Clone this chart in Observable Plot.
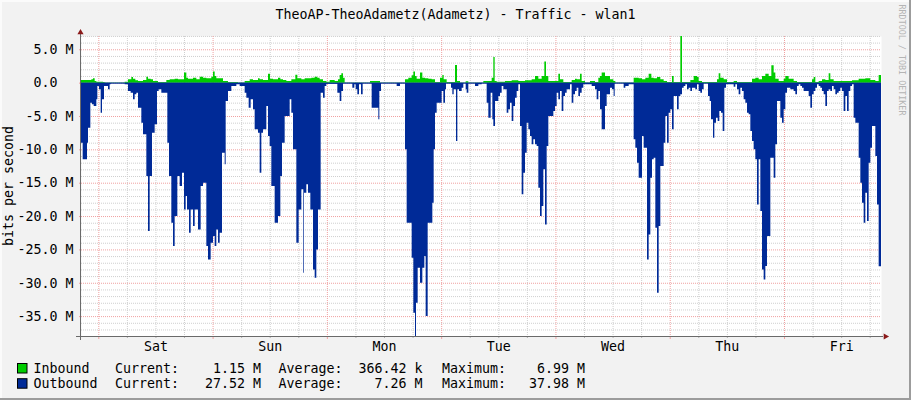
<!DOCTYPE html>
<html><head><meta charset="utf-8">
<script src="https://cdn.jsdelivr.net/npm/d3@7"></script>
<script src="https://cdn.jsdelivr.net/npm/@observablehq/plot@0.6"></script>
<style>
html,body{margin:0;padding:0;background:#ffffff;}
#chart{position:relative;width:911px;height:400px;background:#f2f2f2;overflow:hidden;}
#chart svg{position:absolute;left:0;top:0;}
</style></head>
<body><div id="chart"></div>
<script>
// ---- texts ----
const titleText = "TheoAP-TheoAdametz(Adametz) - Traffic - wlan1";
const yAxisTitle = "bits per second";
const watermark = "RRDTOOL / TOBI OETIKER";
// ---- legend ----
const seriesNames = ["Inbound", "Outbound"];
const seriesColors = ["#00CC00", "#002A97"];
const currentValues = ["1.15 M", "27.52 M"];
const averageValues = ["366.42 k", "7.26 M"];
const maximumValues = ["6.99 M", "37.98 M"];
// ---- time window: one week, start Fri 20:22 ----
const startTime = new Date(Date.UTC(2021, 0, 1, 20, 22));
const spanHours = 168;
// ---- data: [hours from start, Mbit/s], step-wise ----
const inboundSteps = [
[0,0.4],[2.17,0.5],[2.52,0.65],[2.87,0.25],[3.22,0.15],[4.62,0.1],[4.97,0.02],[9.17,0.15],[9.87,0.5],[10.57,0.85],
[10.92,0.6],[11.41,0.35],[11.97,0.25],[13.02,0.4],[13.72,0.9],[14.07,0.6],[14.63,0.5],[15.12,0.25],[16.17,0.1],[17.92,0.4],
[18.62,0.5],[19.67,0.6],[20.37,0.5],[21.63,1.5],[22.12,0.75],[22.47,0.6],[23.52,0.75],[24.22,0.5],[24.92,0.9],[25.62,0.75],
[26.32,0.65],[27.37,0.9],[27.72,1.65],[28.07,1.0],[28.42,0.65],[29.82,0.25],[30.87,0.1],[32.97,0.02],[34.37,0.25],[35.42,0.5],
[36.12,0.4],[37.17,0.65],[37.52,0.5],[38.22,0.4],[39.27,1.35],[39.69,0.6],[40.32,0.5],[41.37,0.75],[41.86,0.5],[42.42,0.4],
[43.12,0.25],[44.17,0.5],[45.01,1.2],[45.43,0.65],[46.27,0.5],[46.97,0.65],[48.37,0.75],[49.07,0.9],[49.63,0.75],[50.12,0.5],
[50.82,0.25],[51.52,0.15],[52.22,0.4],[53.27,0.25],[53.97,0.5],[54.32,1.15],[54.67,1.4],[55.02,0.75],[55.37,0.02],[60.69,0.25],
[62.79,0.02],[68.04,0.5],[68.74,0.75],[69.44,1.1],[69.79,1.65],[70.14,1.0],[70.49,0.6],[71.19,1.5],[71.68,0.75],[72.24,0.65],
[72.94,0.6],[73.64,0.5],[74.34,0.1],[75.39,0.75],[75.88,1.15],[76.16,0.5],[76.79,0.1],[78.54,2.65],[78.96,0.25],[79.59,0.02],
[80.78,0.2],[81.34,0.02],[84.49,0.25],[86.24,0.75],[86.59,3.85],[86.87,0.25],[87.29,0.15],[89.04,0.25],[90.44,0.35],[91.84,0.25],
[93.24,0.35],[94.64,0.5],[95.34,1.0],[96.04,0.6],[96.74,1.0],[97.30,3.15],[97.65,1.0],[98.14,0.25],[100.24,1.35],[100.59,0.5],
[101.29,0.1],[103.04,0.4],[103.74,0.6],[104.09,0.5],[104.79,1.35],[105.14,0.25],[105.84,0.02],[106.89,0.25],[107.94,0.1],[108.64,0.75],
[108.99,1.0],[109.34,1.5],[110.04,1.0],[111.09,0.5],[111.79,0.25],[112.21,0.02],[116.06,0.75],[117.11,0.65],[117.81,0.5],[118.51,0.75],
[119.21,1.35],[119.77,0.75],[120.26,0.65],[120.96,0.85],[121.66,0.5],[122.36,0.25],[123.06,0.1],[124.11,1.0],[124.46,0.1],[125.86,6.99],
[126.21,0.1],[127.96,0.4],[128.66,1.0],[129.36,0.85],[129.71,0.25],[130.41,0.1],[133.56,0.5],[133.91,1.4],[134.26,0.75],[134.96,0.5],
[135.66,0.1],[137.06,0.25],[137.76,0.1],[140.91,0.6],[141.61,0.75],[142.31,0.5],[143.01,1.0],[143.71,1.35],[144.41,1.0],[144.97,2.6],
[145.46,1.5],[145.81,0.6],[146.51,0.25],[147.56,0.6],[147.91,1.0],[148.61,0.6],[149.66,0.25],[150.36,0.1],[153.51,0.5],[153.86,0.85],
[154.21,0.1],[154.91,0.25],[155.61,0.5],[156.31,0.4],[157.01,1.4],[157.36,0.5],[158.06,0.25],[161.91,0.35],[163.31,0.6],[164.71,0.65],
[165.76,0.4],[166.81,0.25],[167.51,1.15]
];
const outboundSteps = [
[0,9.0],[0.35,11.5],[1.26,9.0],[1.47,6.75],[1.96,3.0],[2.31,3.25],[2.66,3.5],[3.22,2.5],[3.43,0.5],[3.78,1.0],
[4.13,4.5],[4.41,2.5],[4.83,0.5],[5.67,1.0],[6.02,0.25],[6.23,0.1],[9.17,0.25],[9.87,1.25],[10.43,1.5],[10.92,2.5],
[11.27,1.75],[11.62,1.5],[11.97,3.75],[12.67,6.0],[13.02,7.75],[13.72,14.0],[14.07,22.25],[14.42,14.0],[14.91,7.5],[15.47,6.25],
[15.96,1.25],[16.31,1.0],[16.87,1.5],[18.13,9.0],[18.48,14.0],[18.97,21.0],[19.32,24.5],[19.67,20.0],[20.23,14.0],[20.72,15.5],
[21.21,13.5],[21.63,19.0],[21.98,17.0],[22.26,19.0],[22.68,22.5],[23.03,19.0],[23.52,21.5],[23.87,19.0],[24.57,22.0],[25.13,15.5],
[25.62,15.0],[26.32,24.5],[26.67,26.5],[27.23,24.0],[27.72,23.0],[28.07,24.5],[28.42,22.0],[28.77,24.0],[29.12,22.5],[29.61,10.5],
[30.17,12.25],[30.38,2.75],[30.87,1.25],[31.57,0.5],[32.62,0.25],[33.32,0.5],[34.37,1.5],[34.72,2.25],[35.21,3.75],[35.63,2.5],
[36.12,4.0],[36.47,7.0],[37.17,7.5],[37.52,13.5],[37.87,7.5],[38.22,7.0],[38.92,3.5],[39.27,8.0],[39.62,9.5],[39.97,15.5],
[40.67,21.0],[41.37,20.0],[41.86,14.0],[42.21,9.0],[42.77,5.0],[43.82,2.5],[44.17,4.5],[44.52,10.0],[45.22,24.0],[45.71,19.0],
[46.27,16.0],[46.69,28.5],[46.83,16.5],[47.32,15.25],[47.67,16.5],[48.16,19.0],[48.72,28.0],[49.07,29.25],[49.42,25.0],[49.77,19.0],
[50.33,1.5],[50.82,2.25],[51.17,0.5],[51.52,0.15],[53.83,1.5],[54.32,2.75],[54.67,1.25],[55.02,0.1],[56.98,0.75],[57.40,0.25],
[57.68,1.0],[58.03,1.75],[58.38,0.25],[58.80,1.75],[59.15,0.1],[61.04,3.75],[62.44,5.5],[62.65,1.25],[63.0,0.1],[66.29,0.5],
[66.99,0.1],[68.04,10.0],[68.39,21.0],[69.44,26.25],[69.79,34.5],[70.14,37.98],[70.35,33.0],[70.70,27.75],[71.19,30.0],[71.68,27.75],
[72.10,26.0],[72.38,35.0],[72.80,21.0],[73.78,18.0],[74.06,10.0],[74.34,4.5],[74.69,3.0],[75.74,1.25],[76.09,3.0],[76.44,1.0],
[76.65,0.1],[77.70,0.75],[77.98,1.75],[78.26,1.0],[78.75,8.75],[79.03,1.0],[79.38,1.25],[79.94,0.75],[80.29,0.1],[80.78,1.0],
[80.99,1.5],[81.34,0.1],[82.74,0.5],[83.44,0.25],[84.14,0.1],[85.19,3.0],[85.54,5.25],[86.03,1.5],[86.38,5.5],[86.59,6.5],
[86.94,2.75],[87.64,2.0],[87.99,1.5],[88.34,0.5],[88.69,1.0],[89.39,4.5],[89.74,4.0],[90.09,3.0],[90.44,5.75],[90.79,3.5],
[91.14,2.25],[91.49,1.25],[91.84,0.25],[92.19,6.5],[92.54,16.75],[92.89,13.5],[93.24,10.5],[93.59,6.0],[93.94,7.0],[94.29,8.0],
[94.64,9.25],[94.99,8.5],[95.34,9.25],[95.69,9.5],[96.04,15.75],[96.39,20.0],[96.74,18.5],[97.09,13.0],[97.44,21.25],[97.79,9.5],
[98.14,5.0],[99.19,4.25],[99.54,3.5],[99.89,1.5],[100.24,2.5],[100.59,1.25],[100.94,4.25],[101.29,2.0],[101.64,1.5],[101.99,1.0],
[102.69,0.25],[103.04,3.0],[103.39,1.75],[103.74,1.25],[104.09,0.75],[104.44,2.0],[104.79,1.5],[105.14,0.75],[105.49,0.25],[107.24,0.5],
[107.94,1.0],[108.29,2.5],[108.64,1.25],[108.99,4.0],[109.34,7.0],[110.04,3.5],[110.39,1.75],[111.09,0.75],[111.51,1.0],[111.86,2.0],
[112.07,0.1],[113.96,0.75],[114.31,0.5],[115.01,0.25],[116.06,8.5],[116.41,9.75],[116.76,12.0],[117.11,14.25],[117.81,8.0],[118.16,9.75],
[118.86,26.5],[119.21,22.75],[119.56,14.25],[119.91,11.5],[120.26,11.25],[120.61,21.75],[120.96,31.5],[121.31,21.5],[121.66,12.5],[122.36,9.0],
[122.71,5.0],[123.06,9.0],[123.41,4.5],[123.76,4.0],[124.11,7.0],[124.46,2.0],[125.16,4.0],[125.51,2.0],[125.86,1.75],[126.21,0.75],
[126.56,0.5],[126.91,0.25],[127.26,1.0],[127.61,0.75],[127.96,1.25],[128.31,0.75],[129.01,1.0],[129.36,0.25],[129.71,1.25],[130.06,1.5],
[130.41,1.0],[130.76,0.1],[131.67,2.0],[132.02,2.75],[132.30,5.5],[132.72,8.25],[133.0,6.0],[133.35,5.25],[133.70,5.75],[134.05,4.25],
[134.40,4.5],[134.75,7.25],[135.10,0.75],[135.45,0.25],[137.06,0.6],[137.41,0.25],[137.76,1.0],[138.11,1.75],[138.46,0.75],[138.81,1.25],
[139.16,2.5],[139.51,3.0],[139.86,4.5],[140.21,4.75],[140.56,7.25],[140.91,8.75],[141.26,10.0],[141.61,11.5],[141.96,18.25],[142.31,11.5],
[142.66,19.25],[143.01,28.0],[143.36,29.5],[143.71,27.5],[144.06,23.0],[144.76,11.25],[145.46,14.25],[145.81,9.25],[146.16,2.75],[146.86,5.25],
[147.21,6.0],[147.56,4.0],[147.91,1.5],[148.26,0.75],[148.96,1.0],[149.66,1.25],[150.01,1.75],[150.36,0.5],[150.71,0.25],[151.06,0.5],
[151.41,0.75],[151.76,1.25],[152.81,2.0],[153.16,3.75],[153.51,1.75],[153.86,1.25],[154.21,0.75],[154.56,0.25],[154.91,0.5],[155.26,0.75],
[155.61,1.25],[155.96,1.75],[156.31,3.5],[156.66,1.25],[157.01,1.0],[157.36,1.25],[157.71,0.5],[158.06,1.0],[158.41,1.75],[158.76,1.5],
[159.11,1.25],[159.46,0.75],[159.81,1.25],[160.16,4.25],[160.51,2.0],[160.86,4.25],[161.21,1.25],[161.56,0.5],[161.91,0.25],[162.26,5.25],
[162.61,6.0],[163.31,11.25],[163.66,15.0],[164.01,18.0],[164.36,21.0],[164.71,16.5],[165.06,20.75],[165.41,12.0],[165.76,9.75],[166.11,6.5],
[166.81,11.0],[167.16,18.25],[167.51,27.52]
];

// ---- build rows ----
const endTime = new Date(+startTime + spanHours * 3600e3);
function toRows(steps, sign) {
  const rows = steps.map(([h, v]) => ({t: new Date(+startTime + h * 3600e3), v: sign * v * 1e6}));
  rows.push({t: endTime, v: rows[rows.length - 1].v});
  return rows;
}
const inRows = toRows(inboundSteps, 1);
const outRows = toRows(outboundSteps, -1);
const yMax = d3.max(inboundSteps, d => d[1]) * 1e6;
const yMin = -d3.max(outboundSteps, d => d[1]) * 1e6;

const majorY = d3.range(Math.ceil(yMin / 5e6), Math.floor(yMax / 5e6) + 1).map(k => k * 5e6);
const minorY = d3.range(Math.ceil(yMin / 1e6), Math.ceil(yMax / 1e6) + 1).filter(k => k % 5 !== 0).map(k => k * 1e6);
const dayStarts = d3.utcDay.range(startTime, endTime);
const minorX = d3.utcHour.every(6).range(startTime, endTime).filter(d => d.getUTCHours() !== 0);
const noons = dayStarts.map(d => d3.utcHour.offset(d, 12)).filter(d => d < endTime);
const fmtY = v => v === 0 ? "0.0\u00a0\u00a0" : (v / 1e6).toFixed(1) + " M";

const mono = "'DejaVu Sans Mono', monospace";
const gridGrey = "#cfcfcf", gridRed = "#f0a0a0", axisGrey = "#6a6a6a", arrowRed = "#8b1a1a";

const plot = Plot.plot({
  width: 911, height: 400,
  marginLeft: 81, marginRight: 30, marginTop: 36, marginBottom: 64,
  style: {background: "transparent", fontFamily: mono, fontSize: "13.3px", color: "#000", overflow: "visible"},
  x: {type: "utc", domain: [startTime, endTime], label: null},
  y: {domain: [yMin, yMax], label: null},
  marks: [
    Plot.frame({fill: "#ffffff", stroke: "none"}),
    Plot.ruleY(minorY, {stroke: gridGrey, strokeDasharray: "1,1"}),
    Plot.ruleX(minorX, {stroke: gridGrey, strokeDasharray: "1,1"}),
    Plot.ruleY(majorY, {stroke: gridRed, strokeDasharray: "1,1"}),
    Plot.ruleX(dayStarts, {stroke: gridRed, strokeDasharray: "1,1"}),
    Plot.areaY(outRows, {x: "t", y: "v", curve: "step-after", fill: seriesColors[1]}),
    Plot.areaY(inRows, {x: "t", y: "v", curve: "step-after", fill: seriesColors[0]}),
    Plot.ruleY([0], {stroke: seriesColors[1]}),
    Plot.axisX({ticks: minorX, tickSize: 2, tickFormat: () => "", stroke: "#b0b0b0", label: null}),
    Plot.axisX({ticks: dayStarts, tickSize: 3, tickFormat: () => "", stroke: gridRed, label: null}),
    Plot.axisX({ticks: noons, tickSize: 0, tickPadding: 5, tickFormat: d3.utcFormat("%a"), fill: "#000", label: null}),
    Plot.axisY({ticks: majorY, tickSize: 2, tickFormat: () => "", stroke: gridRed, label: null}),
    Plot.axisY({ticks: majorY, tickSize: 0, tickPadding: 8, tickFormat: fmtY, fill: "#000", label: null}),
    Plot.ruleY([yMin], {stroke: axisGrey, insetLeft: -5, insetRight: -2}),
    Plot.ruleX([startTime], {stroke: axisGrey, insetTop: -2, insetBottom: -4, dx: -1}),
    Plot.dot([{t: endTime, v: yMin}], {x: "t", y: "v", symbol: "triangle", r: 2.3, rotate: 90, fill: arrowRed, stroke: "none", dx: 4}),
    Plot.dot([{t: startTime, v: yMax}], {x: "t", y: "v", symbol: "triangle", r: 2.3, fill: arrowRed, stroke: "none", dx: -1, dy: -4})
  ]
});

const chart = d3.select("#chart");
chart.append(() => plot);

// overlay: frame border, title, axis title, watermark, legend
const ov = chart.append("svg").attr("width", 911).attr("height", 400)
  .style("font-family", mono).style("font-size", "13.3px");
ov.append("rect").attr("x", 0).attr("y", 0).attr("width", 911).attr("height", 2).attr("fill", "#fbfbfb");
ov.append("rect").attr("x", 0).attr("y", 0).attr("width", 2).attr("height", 400).attr("fill", "#fbfbfb");
ov.append("rect").attr("x", 0).attr("y", 398).attr("width", 911).attr("height", 2).attr("fill", "#9c9c9c");
ov.append("rect").attr("x", 909).attr("y", 0).attr("width", 2).attr("height", 400).attr("fill", "#9c9c9c");

ov.append("text").attr("x", 455.5).attr("y", 19).attr("text-anchor", "middle").attr("fill", "#000").text(titleText);
ov.append("text").attr("transform", "translate(12.8,186) rotate(-90)").attr("text-anchor", "middle").attr("fill", "#000").text(yAxisTitle);
ov.append("text").attr("transform", "translate(899,4.5) rotate(90)").attr("font-size", "8.4px").attr("fill", "#b4b4b4").text(watermark);

seriesNames.forEach((name, i) => {
  const base = 373 + i * 15.2;
  ov.append("rect").attr("x", 17.5).attr("y", base - 9.5).attr("width", 9.5).attr("height", 9.5)
    .attr("fill", seriesColors[i]).attr("stroke", "#000").attr("stroke-width", 1);
  ov.append("text").attr("x", 33.5).attr("y", base).attr("fill", "#000").text(name);
  ov.append("text").attr("x", 115).attr("y", base).attr("fill", "#000").text("Current:");
  ov.append("text").attr("x", 261).attr("y", base).attr("text-anchor", "end").attr("fill", "#000").text(currentValues[i]);
  ov.append("text").attr("x", 278.5).attr("y", base).attr("fill", "#000").text("Average:");
  ov.append("text").attr("x", 422.5).attr("y", base).attr("text-anchor", "end").attr("fill", "#000").text(averageValues[i]);
  ov.append("text").attr("x", 442).attr("y", base).attr("fill", "#000").text("Maximum:");
  ov.append("text").attr("x", 585).attr("y", base).attr("text-anchor", "end").attr("fill", "#000").text(maximumValues[i]);
});
</script>
</body></html>
